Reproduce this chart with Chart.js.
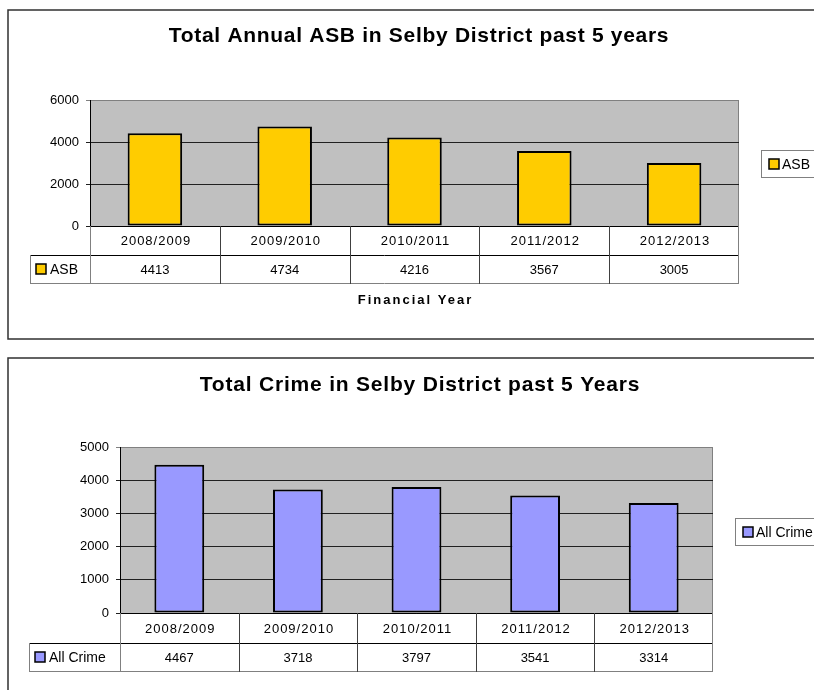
<!DOCTYPE html>
<html>
<head>
<meta charset="utf-8">
<script src="https://cdn.jsdelivr.net/npm/chart.js@4.4.0/dist/chart.umd.min.js"></script>
<style>
  html, body { margin: 0; padding: 0; background: #fff; }
  body { width: 814px; height: 690px; overflow: hidden; position: relative; }
  canvas { position: absolute; left: 0; }
  #asbChart { top: 0; }
  #crimeChart { top: 345px; }
</style>
</head>
<body>
<canvas id="asbChart" width="814" height="345"></canvas>
<canvas id="crimeChart" width="814" height="345"></canvas>
<script>
// data
const years = ['2008/2009', '2009/2010', '2010/2011', '2011/2012', '2012/2013'];
const asbCounts = [4413, 4734, 4216, 3567, 3005];
const crimeCounts = [4467, 3718, 3797, 3541, 3314];

const FONT = '"Liberation Sans", Arial, sans-serif';

// excel style frame, plot background, data table, legend box and titles
const excelSheet = {
  id: 'excelSheet',
  beforeDraw(chart, args, opts) {
    const { ctx, chartArea: { left, top, right, bottom } } = chart;
    ctx.save();
    ctx.strokeStyle = '#303030';
    ctx.lineWidth = 1.5;
    ctx.strokeRect(opts.frame[0], opts.frame[1], opts.frame[2], opts.frame[3]);

    ctx.fillStyle = '#c0c0c0';
    ctx.fillRect(left, top, right - left, bottom - top);
    ctx.strokeStyle = '#808080';
    ctx.lineWidth = 1;
    ctx.strokeRect(left + 0.5, top + 0.5, right - left - 1, bottom - top);
    ctx.restore();
  },
  afterDraw(chart, args, opts) {
    const { ctx, chartArea: { left, right, bottom }, scales: { x } } = chart;
    const labels = chart.data.labels;
    const values = chart.data.datasets[0].data;
    const colour = chart.data.datasets[0].backgroundColor;
    const name = chart.data.datasets[0].label;
    const colW = (right - left) / labels.length;
    const r1 = bottom + opts.rowH[0];
    const r2 = r1 + opts.rowH[1];
    ctx.save();

    // title
    ctx.fillStyle = '#000';
    ctx.font = 'bold 21px ' + FONT;
    ctx.textAlign = 'center';
    ctx.textBaseline = 'alphabetic';
    ctx.letterSpacing = opts.titleSpacing;
    ctx.fillText(opts.title, opts.titlePos[0], opts.titlePos[1]);
    ctx.letterSpacing = '0px';

    // table lines
    const line = (x1, y1, x2, y2, c) => {
      ctx.strokeStyle = c;
      ctx.lineWidth = 1;
      ctx.beginPath();
      ctx.moveTo(x1, y1);
      ctx.lineTo(x2, y2);
      ctx.stroke();
    };
    line(left, bottom + 0.5, right, bottom + 0.5, '#000');
    line(opts.keyLeft, r1 + 0.5, right, r1 + 0.5, '#000');
    line(opts.keyLeft, r2 + 0.5, right, r2 + 0.5, '#808080');
    line(opts.keyLeft + 0.5, r1, opts.keyLeft + 0.5, r2 + 1, '#808080');
    line(left + 0.5, bottom, left + 0.5, r2 + 1, '#808080');
    for (let i = 1; i < labels.length; i++) {
      const cx = Math.round(x.getPixelForValue(i) - colW / 2) + 0.5;
      line(cx, bottom, cx, r2 + 1, '#404040');
    }
    line(right - 0.5, bottom, right - 0.5, r2 + 1, '#808080');

    // table text
    ctx.font = '13px ' + FONT;
    ctx.textBaseline = 'middle';
    ctx.textAlign = 'center';
    labels.forEach((lab, i) => {
      const cx = x.getPixelForValue(i);
      ctx.letterSpacing = '1px';
      ctx.fillText(lab, cx + 1, (bottom + r1) / 2 + 1);
      ctx.letterSpacing = '0px';
      ctx.fillText(String(values[i]), cx, (r1 + r2) / 2 + 1);
    });

    // key inside the table
    const key = (kx, ky) => {
      ctx.fillStyle = colour;
      ctx.fillRect(kx, ky, 10, 10);
      ctx.strokeStyle = '#000';
      ctx.lineWidth = 1.5;
      ctx.strokeRect(kx, ky, 10, 10);
      ctx.fillStyle = '#000';
    };
    key(opts.keyLeft + 6, (r1 + r2) / 2 - 5);
    ctx.font = '14px ' + FONT;
    ctx.textAlign = 'left';
    ctx.fillText(name, opts.keyLeft + 20, (r1 + r2) / 2 + 1);

    // axis title
    if (opts.axisTitle) {
      ctx.font = 'bold 13px ' + FONT;
      ctx.textAlign = 'center';
      ctx.textBaseline = 'alphabetic';
      ctx.letterSpacing = '2px';
      ctx.fillText(opts.axisTitle, (left + right) / 2 + 1, opts.axisTitleY);
      ctx.letterSpacing = '0px';
    }

    // legend box
    const [lx, ly] = opts.legendPos;
    ctx.fillStyle = '#fff';
    ctx.fillRect(lx, ly, 120, 28);
    ctx.strokeStyle = '#808080';
    ctx.lineWidth = 1;
    ctx.strokeRect(lx + 0.5, ly + 0.5, 120, 27);
    key(lx + 8, ly + 9);
    ctx.font = '14px ' + FONT;
    ctx.textAlign = 'left';
    ctx.textBaseline = 'middle';
    ctx.fillText(name, lx + 21, ly + 15);
    ctx.restore();
  }
};

function makeChart(id, label, counts, colour, yMax, yStep, axisW, padding, sheet, barPct) {
  return new Chart(document.getElementById(id), {
    type: 'bar',
    data: {
      labels: years,
      datasets: [{
        label: label,
        data: counts,
        backgroundColor: colour,
        borderColor: '#000',
        borderWidth: 2,
        borderSkipped: false,
        barPercentage: barPct,
        categoryPercentage: 1
      }]
    },
    options: {
      responsive: false,
      animation: false,
      layout: { padding: padding },
      scales: {
        x: { display: false },
        y: {
          min: 0,
          max: yMax,
          afterFit(scale) { scale.width = axisW; },
          ticks: {
            stepSize: yStep,
            padding: 7,
            color: '#000',
            font: { family: FONT, size: 13 },
            callback: (v) => String(v)
          },
          grid: {
            tickLength: 4,
            color: (c) => (c.tick && c.tick.value === yMax ? '#808080' : '#202020')
          },
          border: { color: '#000', width: 1 }
        }
      },
      plugins: {
        legend: { display: false },
        tooltip: { enabled: false },
        excelSheet: sheet
      }
    },
    plugins: [excelSheet]
  });
}

const asbChart = makeChart('asbChart', 'ASB', asbCounts, '#ffcc00', 6000, 2000, 90,
  { left: 0, top: 100, right: 75, bottom: 119 },
  {
    frame: [8, 10, 820, 329],
    title: 'Total Annual ASB in Selby District past 5 years',
    titleSpacing: '0.7px',
    titlePos: [419, 42],
    rowH: [29, 28],
    keyLeft: 30,
    axisTitle: 'Financial Year',
    axisTitleY: 304,
    legendPos: [761, 150]
  }, 0.42);

const crimeChart = makeChart('crimeChart', 'All Crime', crimeCounts, '#9999ff', 5000, 1000, 120,
  { left: 0, top: 102, right: 101, bottom: 77 },
  {
    frame: [8, 13, 820, 400],
    title: 'Total Crime in Selby District past 5 Years',
    titleSpacing: '0.8px',
    titlePos: [420, 46],
    rowH: [30, 28],
    keyLeft: 29,
    axisTitle: null,
    legendPos: [735, 173]
  }, 0.42);
</script>
</body>
</html>
